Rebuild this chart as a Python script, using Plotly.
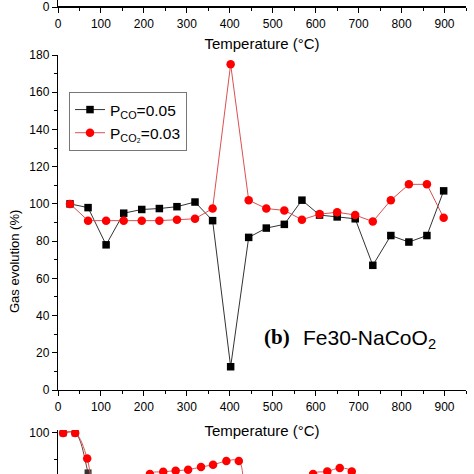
import plotly.graph_objects as go

# panel (b): temperatures and gas evolution values
temp_b = [28, 70, 112, 153, 195, 236, 277, 319, 360, 402, 444, 485, 527,
          568, 609, 650, 692, 733, 775, 817, 859, 898]
p_co = [100, 98, 78, 95, 97, 97.5, 98.5, 101, 91, 12.5, 82, 87, 89,
        102, 94, 93, 92, 67, 83, 79.5, 83, 107]
p_co2 = [100, 91, 91, 91, 91, 91, 91.5, 92, 97.5, 175, 102, 97.5, 96.5,
         91.5, 94.5, 95.5, 94, 90.5, 102, 110.5, 110.5, 92.5]

# panel (c), only its top edge is visible
temp_c = [12, 40, 68, 97, 126, 155, 184, 214, 245, 274, 303, 333, 361,
          392, 421, 450, 565, 594, 627, 656, 684, 713]
c_co2 = [100, 100, 90.5, 60, 55, 60, 70, 84.8, 85.6, 86, 86.4, 87.4, 88.2,
         89.6, 89.6, 70, 70, 84.8, 85.7, 87, 85.7, 70]
temp_c_co = [12, 40, 70, 98]
c_co = [100, 100, 85.2, 60]

x_ticks = list(range(0, 1000, 100))

FONT = "Liberation Sans, Arial, sans-serif"
W = H = 474


def px_y(p):
    # pixel row (from top) -> paper coordinate
    return (H - p) / H


xdom = [58 / W, 466 / W]

axis_common = dict(
    showline=True, linecolor="black", linewidth=1.4,
    ticks="outside", ticklen=5, tickwidth=1, tickcolor="black",
    showgrid=False, zeroline=False, automargin=False,
    tickfont=dict(family=FONT, size=12, color="black"),
)
minor_x = dict(dtick=50, ticks="outside", ticklen=3, tickcolor="black")

fig = go.Figure()

fig.add_trace(go.Scatter(
    x=temp_b, y=p_co, mode="lines+markers", name="P<sub>CO</sub>=0.05",
    line=dict(color="#333333", width=1),
    marker=dict(symbol="square", size=7.5, color="black"),
    xaxis="x", yaxis="y",
))
fig.add_trace(go.Scatter(
    x=temp_b, y=p_co2, mode="lines+markers", name="P<sub>CO₂</sub>=0.03",
    line=dict(color="rgb(220,80,80)", width=1),
    marker=dict(symbol="circle", size=8.5, color="#ff0000"),
    xaxis="x", yaxis="y",
))

# previous panel: empty trace so its axes get drawn
fig.add_trace(go.Scatter(x=[], y=[], showlegend=False,
                         xaxis="x2", yaxis="y2"))

# next panel peeking in at the bottom
fig.add_trace(go.Scatter(
    x=temp_c_co, y=c_co, mode="lines+markers", showlegend=False,
    line=dict(color="#7a3b3b", width=1, shape="spline"),
    marker=dict(symbol="square", size=7, color="#333333"),
    xaxis="x3", yaxis="y3",
))
fig.add_trace(go.Scatter(
    x=temp_c, y=c_co2, mode="lines+markers", showlegend=False,
    line=dict(color="rgb(210,90,90)", width=1, shape="spline"),
    marker=dict(symbol="circle", size=8.5, color="#ff0000"),
    xaxis="x3", yaxis="y3",
))

fig.update_layout(
    width=W, height=H,
    template="none",
    paper_bgcolor="white", plot_bgcolor="white",
    margin=dict(l=0, r=0, t=0, b=0),
    font=dict(family=FONT, color="black"),
    # main panel
    xaxis=dict(
        axis_common, domain=xdom, anchor="y", range=[0, 950],
        tickvals=x_ticks, minor=minor_x,
        title=dict(text="Temperature (°C)", font=dict(size=15), standoff=12),
    ),
    yaxis=dict(
        axis_common, domain=[px_y(390), px_y(55)], anchor="x", range=[0, 180],
        dtick=20, minor=dict(dtick=10, ticks="outside", ticklen=3,
                             tickcolor="black"),
    ),
    # previous panel: only its x axis is in view
    xaxis2=dict(
        axis_common, domain=xdom, anchor="y2", range=[0, 950],
        tickvals=x_ticks, minor=minor_x,
        title=dict(text="Temperature (°C)", font=dict(size=15), standoff=8),
    ),
    yaxis2=dict(
        axis_common, domain=[px_y(7), 1], anchor="x2", range=[0, 10],
        tickvals=[0],
    ),
    # following panel: only the top of it is in view
    xaxis3=dict(
        domain=xdom, anchor="y3", range=[0, 950], showline=False,
        showticklabels=False, ticks="", showgrid=False, zeroline=False,
    ),
    yaxis3=dict(
        axis_common, domain=[0, px_y(430)], anchor="x3", range=[84.8, 101.1],
        tickvals=[100], minor=dict(dtick=10, ticks="outside", ticklen=3,
                                   tickcolor="black"),
    ),
    legend=dict(
        x=69 / W, y=px_y(92), xanchor="left", yanchor="top",
        bgcolor="white", bordercolor="#777777", borderwidth=1,
        font=dict(family=FONT, size=15.5, color="black"),
        tracegroupgap=0, itemwidth=30,
    ),
    # bottom line of the top panel
    shapes=[
        dict(type="line", xref="x2 domain", yref="y2 domain",
             x0=0, x1=1, y0=0, y1=0, layer="above",
             line=dict(color="black", width=2)),
    ],
    annotations=[
        dict(text="Gas evolution (%)", x=14 / W, y=px_y(262), xref="paper",
             yref="paper", showarrow=False, textangle=-90,
             xanchor="center", yanchor="middle",
             font=dict(family=FONT, size=13, color="black")),
        dict(text="<b>(b)</b>", x=277 / W, y=px_y(337), xref="paper",
             yref="paper", showarrow=False, xanchor="center",
             yanchor="middle",
             font=dict(family="Liberation Serif, Times New Roman, serif",
                       size=21, color="black")),
        dict(text="Fe30-NaCoO<sub>2</sub>", x=301 / W, y=px_y(339),
             xref="paper", yref="paper", showarrow=False, xanchor="left",
             yanchor="middle",
             font=dict(family=FONT, size=21, color="black")),
    ],
)

# drop the browser's default page margin so the figure sits at the corner
fig.write_html("out.html", config={"displayModeBar": False},
               post_script="document.body.style.margin = '0';")
